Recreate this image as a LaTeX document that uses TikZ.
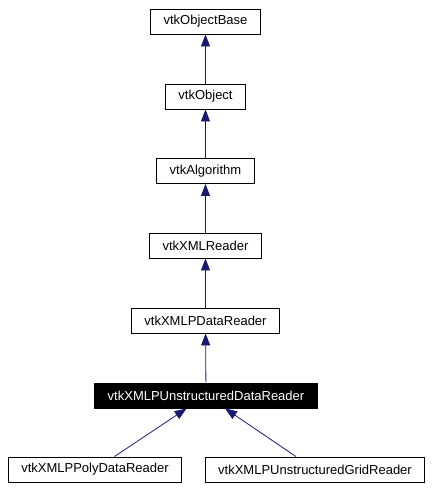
\documentclass[tikz,border=0pt]{standalone}
\usepackage{fontspec}
\setmainfont{Liberation Sans}
\usetikzlibrary{arrows.meta}
\definecolor{edgeblue}{HTML}{191970}

\begin{document}
\begin{tikzpicture}[x=1pt,y=-1pt]
\useasboundingbox (0,0) rectangle (434,490);
\begin{scope}[every node/.style={rectangle,draw,line width=0.9pt,inner xsep=13pt,minimum height=25pt,font=\fontsize{13}{15}\selectfont}]
    \node (base) at (205.5, 21.5) {vtkObjectBase};
    \node (object) at (205.5, 96.5) {vtkObject};
    \node (algorithm) at (205.5, 171) {vtkAlgorithm};
    \node (xmlreader) at (205.5, 245.5) {vtkXMLReader};
    \node (pdata) at (205.5, 320.5) {vtkXMLPDataReader};
    \node[fill=black, text=white] (unstructured) at (206, 395.5) {vtkXMLPUnstructuredDataReader};
    \node (polydata) at (95, 469.5) {vtkXMLPPolyDataReader};
    \node (grid) at (315, 469.5) {vtkXMLPUnstructuredGridReader};
\end{scope}

\begin{scope}[>={Triangle[width=9pt,length=12pt]},
              every edge/.style={draw=edgeblue,line width=0.8pt}]
    \path [->] (object) edge (base);
    \path [->] (algorithm) edge (object);
    \path [->] (xmlreader) edge (algorithm);
    \path [->] (pdata) edge (xmlreader);
    \path [->] (unstructured) edge (pdata);
    \path [->] (polydata) edge (unstructured);
    \path [->] (grid) edge (unstructured);
\end{scope}
\end{tikzpicture}
\end{document}
